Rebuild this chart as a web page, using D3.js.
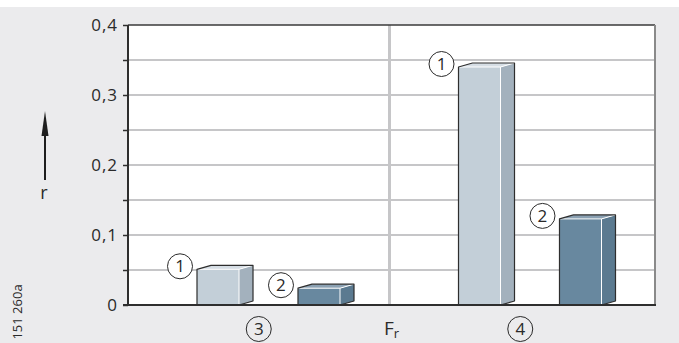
<!DOCTYPE html>
<html>
<head>
<meta charset="utf-8">
<script src="https://cdn.jsdelivr.net/npm/d3@7"></script>
<style>
  html, body { margin: 0; padding: 0; background: #ffffff; }
  svg { display: block; font-family: "Open Sans", "Noto Sans", sans-serif; }
</style>
</head>
<body>
<svg id="chart" width="679" height="343"></svg>
<script>
// Friction coefficient r for two bearing variants (1, 2) under load cases 3 and 4
const groups = ["3", "4"];
const series = ["1", "2"];
const valuesSeries1 = [0.051, 0.340];
const valuesSeries2 = [0.024, 0.123];
const yTicks = [0, 0.05, 0.1, 0.15, 0.2, 0.25, 0.3, 0.35, 0.4];
const yLabelTicks = [0, 0.1, 0.2, 0.3, 0.4];
const xAxisTitle = "F";
const xAxisTitleSub = "r";
const yAxisTitle = "r";
const figureCode = "151 260a";

const rows = groups.map((g, i) => ({
  group: g,
  bars: [
    { key: series[0], value: valuesSeries1[i] },
    { key: series[1], value: valuesSeries2[i] }
  ]
}));

const W = 679, H = 343;
const plot = { left: 128, right: 655, top: 25, bottom: 305 };
const depth = { dx: 14, dy: 4 };

const palette = {
  "1": { front: "#c3cfd8", side: "#a3b1bd", top: "#d6dee5" },
  "2": { front: "#68889f", side: "#5b7a90", top: "#8ba1b3" }
};

const svg = d3.select("#chart");

// page background band
svg.append("rect").attr("x", 0).attr("y", 7).attr("width", W).attr("height", H - 7)
  .attr("fill", "#ebebed");

const x0 = d3.scaleBand().domain(groups).range([plot.left, plot.right - 4]);
const x1 = d3.scaleBand().domain(series).range([69, 212]).paddingInner(0.584).paddingOuter(0);
const y = d3.scaleLinear().domain([0, 0.4]).range([plot.bottom, plot.top]);

// plotting area
svg.append("rect")
  .attr("x", plot.left).attr("y", plot.top)
  .attr("width", plot.right - plot.left).attr("height", plot.bottom - plot.top)
  .attr("fill", "#ffffff");

// horizontal grid
svg.append("g")
  .selectAll("line")
  .data(yTicks.filter(t => t > 0 && t < 0.4))
  .join("line")
  .attr("x1", plot.left).attr("x2", plot.right)
  .attr("y1", d => y(d)).attr("y2", d => y(d))
  .attr("stroke", "#c6c6c8").attr("stroke-width", 2);

// separator between the two load cases
svg.append("line")
  .attr("x1", x0("4")).attr("x2", x0("4"))
  .attr("y1", plot.top).attr("y2", plot.bottom)
  .attr("stroke", "#c6c6c8").attr("stroke-width", 3);

// frame: top and right
svg.append("line").attr("x1", plot.left).attr("x2", plot.right)
  .attr("y1", plot.top).attr("y2", plot.top)
  .attr("stroke", "#3a3a3a").attr("stroke-width", 1.5);
svg.append("line").attr("x1", plot.right).attr("x2", plot.right)
  .attr("y1", plot.top).attr("y2", plot.bottom)
  .attr("stroke", "#8a8a8a").attr("stroke-width", 2);

// 3D bars
const barLayer = svg.append("g");
rows.forEach(row => {
  row.bars.forEach(b => {
    const xl = x0(row.group) + x1(b.key);
    const w = x1.bandwidth();
    const yt = y(b.value), yb = y(0);
    const c = palette[b.key];
    const g = barLayer.append("g");
    // side face
    g.append("polygon")
      .attr("points", [[xl + w, yt], [xl + w + depth.dx, yt - depth.dy], [xl + w + depth.dx, yb - depth.dy], [xl + w, yb]].join(" "))
      .attr("fill", c.side);
    // top face
    g.append("polygon")
      .attr("points", [[xl, yt], [xl + depth.dx, yt - depth.dy], [xl + w + depth.dx, yt - depth.dy], [xl + w, yt]].join(" "))
      .attr("fill", c.top);
    // front face
    g.append("rect").attr("x", xl).attr("y", yt).attr("width", w).attr("height", yb - yt)
      .attr("fill", c.front);
    // inner highlight edges
    g.append("path")
      .attr("d", `M${xl},${yt}H${xl + w}V${yb}M${xl + w},${yt}L${xl + w + depth.dx},${yt - depth.dy}`)
      .attr("fill", "none").attr("stroke", "#ffffff").attr("stroke-width", 1);
    // silhouette outline
    g.append("path")
      .attr("d", `M${xl},${yb}V${yt}L${xl + depth.dx},${yt - depth.dy}H${xl + w + depth.dx}V${yb - depth.dy}L${xl + w},${yb}`)
      .attr("fill", "none").attr("stroke", "#2e2e2e").attr("stroke-width", 1.2)
      .attr("stroke-linejoin", "round");
    // circled series marker
    const cx = xl - 17, cy = yt - 3;
    g.append("circle").attr("cx", cx).attr("cy", cy).attr("r", 12.5)
      .attr("fill", "#ffffff").attr("stroke", "#2a2a2a").attr("stroke-width", 1);
    g.append("text").attr("x", cx).attr("y", cy + 6).attr("text-anchor", "middle")
      .attr("font-size", 17).attr("fill", "#2a2a2a").text(b.key);
  });
});

// y axis
const locale = d3.formatLocale({ decimal: ",", thousands: ".", grouping: [3], currency: ["", ""] });
const fmt = locale.format(".1f");
const yAxis = d3.axisLeft(y)
  .tickValues(yTicks)
  .tickSize(5)
  .tickPadding(5)
  .tickFormat(d => yLabelTicks.some(t => Math.abs(t - d) < 1e-9) ? (d === 0 ? "0" : fmt(d)) : "");
const ya = svg.append("g").attr("transform", `translate(${plot.left},0)`).call(yAxis);
ya.select(".domain").remove();
ya.selectAll(".tick line").attr("stroke", "#2e2e2e").attr("stroke-width", 1.5);
ya.selectAll(".tick text").attr("font-size", 17).attr("fill", "#2a2a2a")
  .attr("letter-spacing", 1).attr("font-family", "'Open Sans', sans-serif");

// axis lines
svg.append("line").attr("x1", plot.left).attr("x2", plot.left)
  .attr("y1", plot.top).attr("y2", plot.bottom + 1)
  .attr("stroke", "#2e2e2e").attr("stroke-width", 2);
svg.append("line").attr("x1", plot.left - 5).attr("x2", plot.right + 1)
  .attr("y1", plot.bottom).attr("y2", plot.bottom)
  .attr("stroke", "#2e2e2e").attr("stroke-width", 2);

// circled load-case labels
const xLabels = svg.append("g");
groups.forEach(g => {
  const cx = x0(g) + x0.bandwidth() / 2, cy = 329;
  xLabels.append("circle").attr("cx", cx).attr("cy", cy).attr("r", 12.5)
    .attr("fill", "none").attr("stroke", "#2a2a2a").attr("stroke-width", 1);
  xLabels.append("text").attr("x", cx).attr("y", cy + 6).attr("text-anchor", "middle")
    .attr("font-size", 17).attr("fill", "#2a2a2a").text(g);
});

// x axis title F_r
const ft = svg.append("text").attr("x", 384).attr("y", 335)
  .attr("font-size", 19).attr("fill", "#2a2a2a");
ft.append("tspan").text(xAxisTitle);
ft.append("tspan").attr("font-size", 13).attr("dy", 3).text(xAxisTitleSub);

// y axis title with arrow
svg.append("line").attr("x1", 45).attr("x2", 45).attr("y1", 180).attr("y2", 130)
  .attr("stroke", "#1e1e1e").attr("stroke-width", 2);
svg.append("path").attr("d", "M45,111L41.5,136L48.5,136Z").attr("fill", "#1e1e1e");
svg.append("text").attr("x", 44).attr("y", 199).attr("text-anchor", "middle")
  .attr("font-size", 18).attr("fill", "#2a2a2a").text(yAxisTitle);

// figure code
svg.append("text")
  .attr("transform", "translate(22,312) rotate(-90)")
  .attr("text-anchor", "middle")
  .attr("font-size", 13).attr("fill", "#2a2a2a").text(figureCode);
</script>
</body>
</html>
